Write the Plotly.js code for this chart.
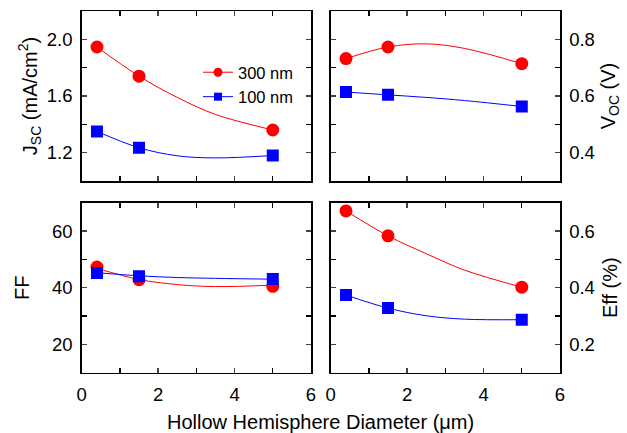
<!DOCTYPE html>
<html>
<head>
<meta charset="utf-8">
<script src="https://cdn.plot.ly/plotly-3.0.1.min.js"></script>
<style>html,body{margin:0;padding:0;background:#fff;}#chart{width:627px;height:433px;}</style>
</head>
<body>
<div id="chart"></div>
<script>
// ---- data ----
const diameter = [0.4, 1.5, 5];
const jsc300 = [1.946, 1.74, 1.36];
const jsc100 = [1.35, 1.235, 1.18];
const voc300 = [0.732, 0.773, 0.714];
const voc100 = [0.614, 0.604, 0.563];
const ff300 = [47.3, 42.8, 40.5];
const ff100 = [45.2, 44.0, 43.1];
const eff300 = [0.671, 0.583, 0.402];
const eff100 = [0.374, 0.328, 0.287];

// fitted guide curves
const fitX = [0.4, 1.5, 2.5, 3.5, 5];
const jsc300Fit = [1.946, 1.74, 1.59, 1.47, 1.36];
const jsc100Fit = [1.35, 1.235, 1.178, 1.163, 1.18];
const voc300Fit = [0.732, 0.773, 0.784, 0.768, 0.714];
const voc100Fit = [0.614, 0.604, 0.595, 0.584, 0.563];
const ff300Fit = [46.8, 42.9, 41.1, 40.4, 40.9];
const ff100Fit = [45.3, 44.2, 43.6, 43.3, 43.0];
const eff300Fit = [0.671, 0.583, 0.52, 0.462, 0.402];
const eff100Fit = [0.374, 0.328, 0.301, 0.289, 0.287];

const seriesNames = ['300 nm', '100 nm'];
const RED = '#ff0000', BLUE = '#0000ff';

const panels = [
  {xa:'x',  ya:'y',  d300:jsc300, d100:jsc100, f300:jsc300Fit, f100:jsc100Fit},
  {xa:'x2', ya:'y2', d300:voc300, d100:voc100, f300:voc300Fit, f100:voc100Fit},
  {xa:'x3', ya:'y3', d300:ff300,  d100:ff100,  f300:ff300Fit,  f100:ff100Fit},
  {xa:'x4', ya:'y4', d300:eff300, d100:eff100, f300:eff300Fit, f100:eff100Fit}
];

const traces = [];
panels.forEach(p => {
  traces.push({x: fitX, y: p.f300, xaxis:p.xa, yaxis:p.ya, mode:'lines', line:{color:RED, width:1, shape:'spline', smoothing:1}, showlegend:false, hoverinfo:'skip'});
  traces.push({x: fitX, y: p.f100, xaxis:p.xa, yaxis:p.ya, mode:'lines', line:{color:BLUE, width:1, shape:'spline', smoothing:1}, showlegend:false, hoverinfo:'skip'});
  traces.push({x: diameter, y: p.d300, xaxis:p.xa, yaxis:p.ya, mode:'markers', marker:{color:RED, size:13, symbol:'circle'}, showlegend:false});
  traces.push({x: diameter, y: p.d100, xaxis:p.xa, yaxis:p.ya, mode:'markers', marker:{color:BLUE, size:12, symbol:'square'}, showlegend:false});
});
// legend entries
traces.push({x:[null], y:[null], xaxis:'x', yaxis:'y', name:seriesNames[0], mode:'lines+markers', line:{color:RED, width:1}, marker:{color:RED, size:9, symbol:'circle'}});
traces.push({x:[null], y:[null], xaxis:'x', yaxis:'y', name:seriesNames[1], mode:'lines+markers', line:{color:BLUE, width:1}, marker:{color:BLUE, size:8, symbol:'square'}});

const FONT = 'Liberation Sans, Arial, sans-serif';
const W = 627, H = 433;
const xL = [81.7/W, 311/W], xR = [330.7/W, 560/W];
const yT = [1-181/H, 1-11/H], yB = [1-372.7/H, 1-202.7/H];
const TICKSIZE = 18.5, TITLESIZE = 20;

function xax(domain, anchor, showLabels){
  return {domain, anchor, range:[0,6], dtick:2, tick0:0, ticks:'inside', ticklen:5, tickwidth:1.3,
    minor:{dtick:1, ticks:'inside', ticklen:5, tickwidth:1.3, tickcolor:'#000'},
    showline:true, linecolor:'#000', linewidth:1.5, mirror:'ticks', showgrid:false, zeroline:false,
    showticklabels:showLabels, tickfont:{family:FONT, size:TICKSIZE, color:'#000'}, ticklabelstandoff:5};
}
function yax(domain, anchor, range, dtick, tick0, minor, side, fmt, title, standoff){
  return {domain, anchor, range, dtick, tick0, side, tickformat:fmt, ticks:'inside', ticklen:5, tickwidth:1.3,
    minor:{dtick:minor, ticks:'inside', ticklen:5, tickwidth:1.3, tickcolor:'#000'},
    showline:true, linecolor:'#000', linewidth:1.5, mirror:'ticks', showgrid:false, zeroline:false,
    tickfont:{family:FONT, size:TICKSIZE, color:'#000'}, ticklabelstandoff:4,
    title:{text:title, font:{family:FONT, size:TITLESIZE, color:'#000'}, standoff:standoff}};
}

const layout = {
  width: W, height: H,
  margin:{l:0, r:0, t:0, b:0},
  paper_bgcolor:'#fff', plot_bgcolor:'#fff',
  font:{family:FONT, color:'#000'},
  showlegend:true,
  legend:{x:198/W, y:1-55/H, xanchor:'left', yanchor:'top', bgcolor:'rgba(0,0,0,0)', borderwidth:0,
    font:{family:FONT, size:16.5, color:'#000'}, tracegroupgap:0, itemwidth:30},
  xaxis: xax(xL, 'y', false),
  yaxis: yax(yT, 'x', [1.0, 2.2], 0.4, 1.2, 0.2, 'left', '.1f', 'J<sub>SC</sub> (mA/cm<sup>2</sup>)', 4),
  xaxis2: xax(xR, 'y2', false),
  yaxis2: yax(yT, 'x2', [0.3, 0.9], 0.2, 0.4, 0.1, 'right', '.1f', 'V<sub>OC</sub> (V)', 7),
  xaxis3: xax(xL, 'y3', true),
  yaxis3: yax(yB, 'x3', [10, 70], 20, 20, 10, 'left', 'd', 'FF', 17),
  xaxis4: xax(xR, 'y4', true),
  yaxis4: yax(yB, 'x4', [0.1, 0.7], 0.2, 0.2, 0.1, 'right', '.1f', 'Eff (%)', 9),
  annotations:[{text:'Hollow Hemisphere Diameter (μm)', xref:'paper', yref:'paper', x:320/W, y:1-422/H,
    xanchor:'center', yanchor:'middle', showarrow:false, font:{family:FONT, size:TITLESIZE, color:'#000'}}]
};

Plotly.newPlot('chart', traces, layout, {staticPlot:true, displayModeBar:false});
</script>
</body>
</html>
